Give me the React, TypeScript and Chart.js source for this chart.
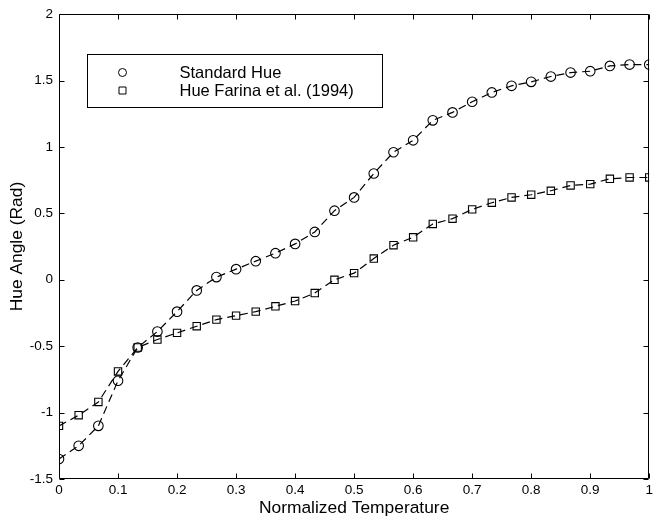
import React, { useEffect, useRef } from 'react';
import { Chart, registerables } from 'chart.js';

Chart.register(...registerables);

const xValues = [
  0, 0.0333, 0.0667, 0.1, 0.1333, 0.1667, 0.2, 0.2333, 0.2667, 0.3, 0.3333,
  0.3667, 0.4, 0.4333, 0.4667, 0.5, 0.5333, 0.5667, 0.6, 0.6333, 0.6667,
  0.7, 0.7333, 0.7667, 0.8, 0.8333, 0.8667, 0.9, 0.9333, 0.9667, 1,
];

const standardHue = [
  -1.35, -1.25, -1.1, -0.76, -0.51, -0.39, -0.24, -0.08, 0.02, 0.08, 0.14,
  0.2, 0.27, 0.36, 0.52, 0.62, 0.8, 0.96, 1.05, 1.2, 1.26,
  1.34, 1.41, 1.46, 1.49, 1.53, 1.56, 1.57, 1.61, 1.62, 1.62,
];

const farinaHue = [
  -1.1, -1.02, -0.92, -0.69, -0.51, -0.45, -0.4, -0.35, -0.3, -0.27, -0.24,
  -0.2, -0.16, -0.1, 0.0, 0.05, 0.16, 0.26, 0.32, 0.42, 0.46,
  0.53, 0.58, 0.62, 0.64, 0.67, 0.71, 0.72, 0.76, 0.77, 0.77,
];

const seriesNames = ['Standard Hue', 'Hue Farina et al. (1994)'];
const xTickLabels = ['0', '0.1', '0.2', '0.3', '0.4', '0.5', '0.6', '0.7', '0.8', '0.9', '1'];
const yTickLabels = ['-1.5', '-1', '-0.5', '0', '0.5', '1', '1.5', '2'];
const xTitle = 'Normalized Temperature';
const yTitle = 'Hue Angle (Rad)';

const FONT = "'Liberation Sans', Arial, Helvetica, sans-serif";

const framePlugin = {
  id: 'matlabFrame',
  afterDatasetsDraw(chart: any) {
    const { ctx, chartArea: a, scales } = chart;
    const xs = scales.x;
    const ys = scales.y;
    const L = Math.round(a.left) + 0.5;
    const R = Math.round(a.right) - 0.5;
    const T = Math.round(a.top) + 0.5;
    const B = Math.round(a.bottom) - 0.5;
    const tl = 5;
    ctx.save();
    ctx.strokeStyle = '#000';
    ctx.lineWidth = 1;
    ctx.beginPath();
    ctx.rect(L, T, R - L, B - T);
    xs.ticks.forEach((t: any) => {
      const px = Math.round(xs.getPixelForValue(t.value)) + 0.5;
      ctx.moveTo(px, B);
      ctx.lineTo(px, B - tl);
      ctx.moveTo(px, T);
      ctx.lineTo(px, T + tl);
    });
    ys.ticks.forEach((t: any) => {
      const py = Math.round(ys.getPixelForValue(t.value)) + 0.5;
      ctx.moveTo(L, py);
      ctx.lineTo(L + tl, py);
      ctx.moveTo(R, py);
      ctx.lineTo(R - tl, py);
    });
    ctx.stroke();
    ctx.restore();
  },
};

const legendPlugin = {
  id: 'boxLegend',
  afterDraw(chart: any) {
    const { ctx, chartArea: a } = chart;
    const bx = Math.round(a.left + 28) + 0.5;
    const by = Math.round(a.top + 40) + 0.5;
    const bw = 295;
    const bh = 53;
    ctx.save();
    ctx.fillStyle = '#fff';
    ctx.fillRect(bx, by, bw, bh);
    ctx.strokeStyle = '#000';
    ctx.lineWidth = 1;
    ctx.strokeRect(bx, by, bw, bh);
    ctx.font = `16.5px ${FONT}`;
    ctx.fillStyle = '#000';
    ctx.textBaseline = 'middle';
    ctx.textAlign = 'left';
    chart.data.datasets.forEach((ds: any, i: number) => {
      const cy = by + 18 + i * 18;
      const cx = bx + 35;
      ctx.beginPath();
      if (ds.pointStyle === 'rect') {
        ctx.rect(cx - 3.5, cy - 3.5, 7, 7);
      } else {
        ctx.arc(cx, cy, 4, 0, Math.PI * 2);
      }
      ctx.stroke();
      ctx.fillText(ds.label, bx + 92, cy + 1);
    });
    ctx.restore();
  },
};

export default function App() {
  const ref = useRef<HTMLCanvasElement>(null);
  useEffect(() => {
    document.body.style.margin = '0';
    const canvas = ref.current!;
    const mk = (vals: number[]) => xValues.map((x, i) => ({ x, y: vals[i] }));
    const common = {
      borderColor: '#000',
      borderWidth: 1.2,
      borderDash: [8, 5],
      backgroundColor: 'rgba(0,0,0,0)',
      pointBorderColor: '#000',
      pointBackgroundColor: 'rgba(0,0,0,0)',
      pointBorderWidth: 1.1,
      tension: 0,
      fill: false,
    };
    const chart = new Chart(canvas, {
      type: 'line',
      data: {
        datasets: [
          { ...common, label: seriesNames[0], data: mk(standardHue), pointStyle: 'circle', pointRadius: 4.8 },
          { ...common, label: seriesNames[1], data: mk(farinaHue), pointStyle: 'rect', pointRadius: 5.2 },
        ],
      },
      options: {
        responsive: false,
        animation: false,
        events: [],
        layout: { padding: { top: 11, right: 4, left: 0, bottom: 0 } },
        plugins: { legend: { display: false }, tooltip: { enabled: false } },
        scales: {
          x: {
            type: 'linear',
            min: 0,
            max: 1,
            afterFit: (s: any) => { s.height = 41; },
            ticks: {
              stepSize: 0.1,
              autoSkip: false,
              maxRotation: 0,
              padding: 3,
              color: '#000',
              font: { family: FONT, size: 13.5 },
              callback: (_v: any, i: number) => xTickLabels[i],
            },
            grid: { display: false, drawTicks: false },
            border: { display: false },
            title: {
              display: true,
              text: xTitle,
              color: '#000',
              font: { family: FONT, size: 17.4 },
              padding: { top: 0, bottom: 1 },
            },
          },
          y: {
            type: 'linear',
            min: -1.5,
            max: 2,
            afterFit: (s: any) => { s.width = 59; },
            ticks: {
              stepSize: 0.5,
              autoSkip: false,
              padding: 6,
              color: '#000',
              font: { family: FONT, size: 13.5 },
              callback: (_v: any, i: number) => yTickLabels[i],
            },
            grid: { display: false, drawTicks: false },
            border: { display: false },
            title: {
              display: true,
              text: yTitle,
              color: '#000',
              font: { family: FONT, size: 17.4 },
              padding: { top: 7, bottom: 0 },
            },
          },
        },
      },
      plugins: [framePlugin, legendPlugin],
    });
    return () => chart.destroy();
  }, []);
  return <canvas ref={ref} width={656} height={520} style={{ display: 'block' }} />;
}
